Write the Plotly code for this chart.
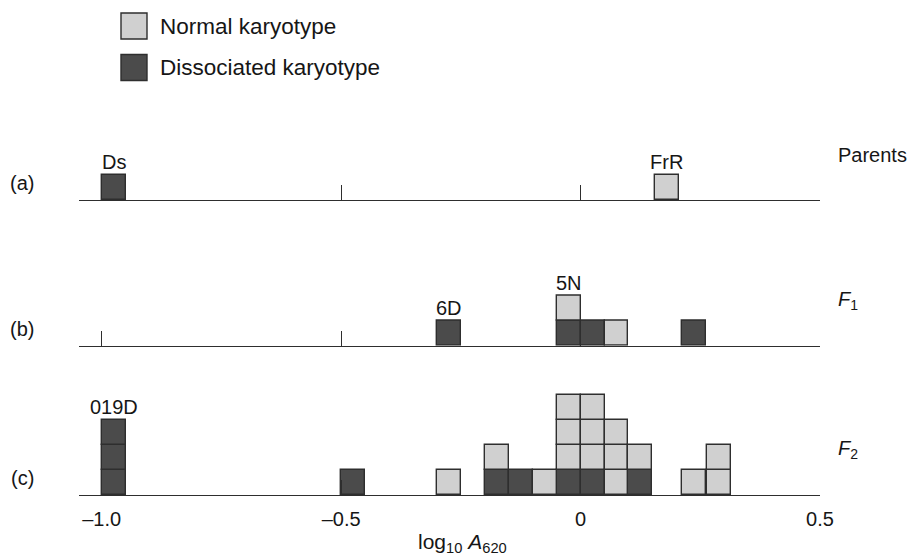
import plotly.graph_objects as go

# ---------------- data ----------------
row_names = ["(a)", "(b)", "(c)"]
row_titles = ["Parents", "<i>F</i><sub>1</sub>", "<i>F</i><sub>2</sub>"]

# bin centres (log10 A620) and counts for each row
a_bins = [-0.975, 0.18]
a_dissociated = [1, 0]
a_normal = [0, 1]

b_bins = [-0.275, -0.025, 0.025, 0.075, 0.2375]
b_dissociated = [1, 1, 1, 0, 1]
b_normal = [0, 1, 0, 1, 0]

c_bins = [-0.975, -0.475, -0.275, -0.175, -0.125, -0.075, -0.025, 0.025, 0.075, 0.125, 0.2375, 0.2885]
c_dissociated = [3, 1, 0, 1, 1, 0, 1, 1, 0, 1, 0, 0]
c_normal = [0, 0, 1, 1, 0, 1, 3, 3, 3, 1, 1, 2]

# strain labels: (row index, x, label)
strain_rows = [0, 0, 1, 1, 2]
strain_x = [-0.975, 0.18, -0.275, -0.025, -0.975]
strain_text = ["Ds", "FrR", "6D", "5N", "019D"]

tick_vals = [-1.0, -0.5, 0.0, 0.5]
tick_text = ["\u20131.0", "\u20130.5", "0", "0.5"]

legend_labels = ["Normal karyotype", "Dissociated karyotype"]
x_title = "log<sub>10</sub> <i>A</i><sub>620</sub>"

# ---------------- style ----------------
W, H = 913, 558
ML, MR, MT, MB = 79, 93, 0, 63
PW, PH = W - ML - MR, H - MT - MB
FONT = "Liberation Sans, Arial, Helvetica, sans-serif"
TXT = "#161616"
LIGHT = "#d0d0d0"
DARK = "#4b4b4b"
EDGE = "#2e2e2e"
BIN_W = 0.05
UNIT_PX = 25.0


def px_x(px):
    return (px - ML) / PW


def px_y(py):
    return (MT + PH - py) / PH


rows = [
    (a_bins, a_dissociated, a_normal),
    (b_bins, b_dissociated, b_normal),
    (c_bins, c_dissociated, c_normal),
]
baselines_px = [200.0, 345.7, 495.0]
units = [3, 4, 5]

fig = go.Figure()

for r, (bins, dis, nor) in enumerate(rows):
    suffix = "" if r == 0 else str(r + 1)
    dx, dbase, lx, lbase = [], [], [], []
    for xc, d, n in zip(bins, dis, nor):
        for k in range(d):
            dx.append(xc)
            dbase.append(k)
        for k in range(n):
            lx.append(xc)
            lbase.append(d + k)
    for xs, bases, col, name in [(dx, dbase, DARK, legend_labels[1]), (lx, lbase, LIGHT, legend_labels[0])]:
        if not xs:
            continue
        fig.add_trace(go.Bar(
            x=xs, y=[1] * len(xs), base=bases, width=BIN_W,
            marker=dict(color=col, line=dict(color=EDGE, width=1.4)),
            name=name, showlegend=False,
            xaxis="x" + suffix, yaxis="y" + suffix,
        ))

layout_axes = {}
for r in range(3):
    suffix = "" if r == 0 else str(r + 1)
    bottom = px_y(baselines_px[r])
    top = px_y(baselines_px[r] - units[r] * UNIT_PX)
    layout_axes["xaxis" + suffix] = dict(
        range=[-1.0 - 22.7 / 479.0, 0.5], anchor="y" + suffix,
        showline=True, linecolor=EDGE, linewidth=1.3,
        ticks="inside", ticklen=15, tickwidth=1.3, tickcolor=EDGE,
        tickvals=tick_vals, ticktext=tick_text,
        showticklabels=(r == 2), ticklabelstandoff=6,
        tickfont=dict(family=FONT, size=20, color=TXT),
        showgrid=False, zeroline=False, fixedrange=True,
    )
    layout_axes["yaxis" + suffix] = dict(
        domain=[bottom, top], range=[0, units[r]], anchor="x" + suffix,
        visible=False, fixedrange=True,
    )

annotations = []
# strain labels above columns
for r, xv, t in zip(strain_rows, strain_x, strain_text):
    bins, dis, nor = rows[r]
    i = bins.index(xv)
    suffix = "" if r == 0 else str(r + 1)
    annotations.append(dict(
        x=xv, y=dis[i] + nor[i], xref="x" + suffix, yref="y" + suffix,
        text=t, showarrow=False, yanchor="middle", yshift=13,
        font=dict(family=FONT, size=20, color=TXT),
    ))
# row labels and generation labels
for r in range(3):
    suffix = "" if r == 0 else str(r + 1)
    annotations.append(dict(
        x=px_x(22), y=0.68, xref="paper", yref="y" + suffix,
        text=row_names[r], showarrow=False, xanchor="center", yanchor="middle",
        font=dict(family=FONT, size=20, color=TXT),
    ))
    annotations.append(dict(
        x=px_x(836), y=1.8, xref="paper", yref="y" + suffix,
        text=row_titles[r], showarrow=False, xanchor="left", yanchor="middle",
        font=dict(family=FONT, size=20, color=TXT),
    ))
# axis title
annotations.append(dict(
    x=px_x(462), y=px_y(543), xref="paper", yref="paper",
    text=x_title, showarrow=False, xanchor="center", yanchor="middle",
    font=dict(family=FONT, size=21, color=TXT),
))

# legend drawn as boxes + text
shapes = []
leg_colors = [LIGHT, DARK]
leg_y = [26.0, 67.5]
for lab, col, yc in zip(legend_labels, leg_colors, leg_y):
    shapes.append(dict(
        type="rect", xref="paper", yref="paper",
        x0=px_x(121), x1=px_x(147), y0=px_y(yc + 13), y1=px_y(yc - 13),
        fillcolor=col, line=dict(color=EDGE, width=1.4),
    ))
    annotations.append(dict(
        x=px_x(158), y=px_y(yc), xref="paper", yref="paper",
        text=lab, showarrow=False, xanchor="left", yanchor="middle",
        font=dict(family=FONT, size=22.5, color=TXT),
    ))

fig.update_layout(
    width=W, height=H,
    margin=dict(l=ML, r=MR, t=MT, b=MB),
    paper_bgcolor="white", plot_bgcolor="white",
    barmode="overlay", bargap=0,
    showlegend=False,
    annotations=annotations, shapes=shapes,
    **layout_axes,
)

fig.write_html("out.html", config={"displayModeBar": False})
